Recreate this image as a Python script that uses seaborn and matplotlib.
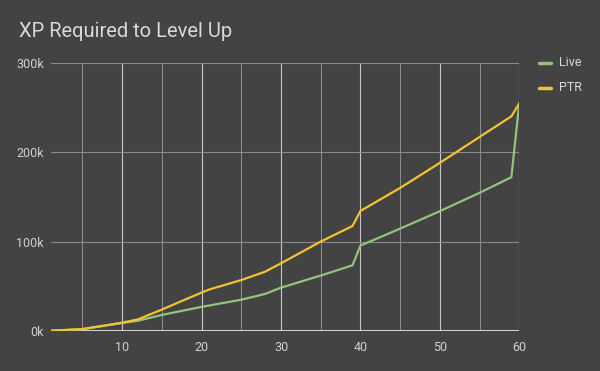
import numpy as np
import pandas as pd
import seaborn as sns
import matplotlib.pyplot as plt

# values (k XP), at the levels where the lines bend
levels = [1, 5, 10, 12, 15, 20, 21, 25, 28, 30, 35, 39, 40, 45, 50, 55, 59, 60]
live = [0.3, 2, 9, 11.5, 18, 27, 28.6, 35, 41.5, 48.5, 62, 73.5, 95.5, 114.5, 134, 154.5, 172, 255]
ptr = [0.3, 2.2, 9.3, 13, 24, 43, 46.5, 57, 66.3, 75.7, 100, 117.4, 134.2, 160, 188, 217, 240, 254.5]
series_names = ["Live", "PTR"]
y_ticks = [0, 100, 200, 300]
x_ticks = [10, 20, 30, 40, 50, 60]

bg = "#434343"
colors = {"Live": "#93c47d", "PTR": "#f1c232"}

df = pd.DataFrame({
    "Level": levels * 2,
    "XP": [v * 1000 for v in live + ptr],
    "Series": ["Live"] * len(levels) + ["PTR"] * len(levels),
})

sns.set_style("dark")
plt.rcParams["font.family"] = ["Roboto", "DejaVu Sans"]

fig = plt.figure(figsize=(6, 3.71), dpi=100, facecolor=bg)
ax = fig.add_axes([0.0845, 0.1078, 0.781, 0.7232], facecolor=bg)

sns.lineplot(data=df, x="Level", y="XP", hue="Series", palette=colors,
             hue_order=series_names, linewidth=1.6, ax=ax, legend=False, zorder=3)

ax.set_xlim(1, 60)
ax.set_ylim(0, 300000)
ax.set_xticks(x_ticks)
ax.set_xticks([5, 15, 25, 35, 45, 55], minor=True)
ax.set_yticks([t * 1000 for t in y_ticks])
ax.set_yticklabels([f"{t}k" for t in y_ticks])

ax.grid(False)
for t in x_ticks:
    ax.axvline(t, color="#c8c8c8", lw=0.8, zorder=1)
for t in [5, 15, 25, 35, 45, 55]:
    ax.axvline(t, color="#8a8a8a", lw=0.8, zorder=1)
for t in y_ticks[1:]:
    ax.axhline(t * 1000, color="#8a8a8a", lw=0.8, zorder=1)
ax.axhline(0, color="#eeeeee", lw=1.2, zorder=2)

for s in ax.spines.values():
    s.set_visible(False)
ax.tick_params(axis="both", which="both", length=0, colors="#d0d0d0", labelsize=9)
ax.tick_params(axis="x", pad=7)
ax.tick_params(axis="y", pad=5)
ax.set_xlabel("")
ax.set_ylabel("")

fig.text(0.032, 0.915, "XP Required to Level Up", color="#d9d9d9",
         fontsize=14.5, va="center", ha="left")

for i, name in enumerate(series_names):
    y = 0.831 - i * 0.067
    fig.add_artist(plt.Line2D([0.898, 0.918], [y, y], color=colors[name], lw=2.5))
    fig.text(0.932, y, name, color="#d9d9d9", fontsize=9, va="center", ha="left")

fig.savefig("out.png", dpi=100, facecolor=bg)
